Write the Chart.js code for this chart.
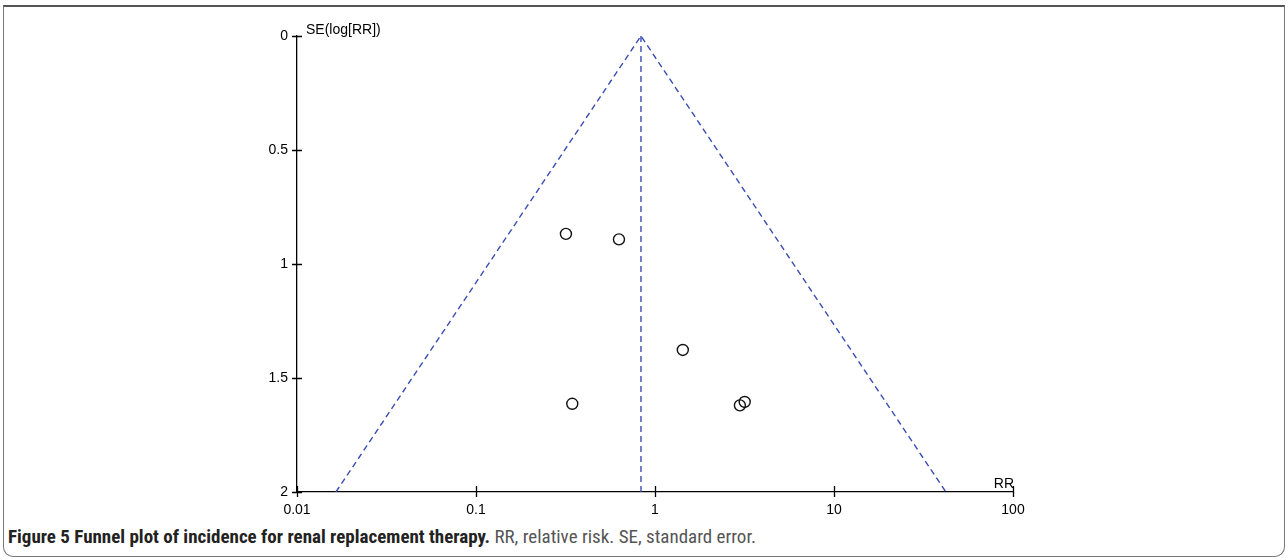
<!DOCTYPE html>
<html>
<head>
<meta charset="utf-8">
<script src="https://cdn.jsdelivr.net/npm/chart.js@4.4.1/dist/chart.umd.min.js"></script>
<style>
    html, body { margin: 0; padding: 0; background: #fff; }
    body { width: 1288px; height: 560px; position: relative; overflow: hidden; }
    .frame {
        position: absolute; left: 3px; top: 5px; width: 1280px; height: 549px;
        border: 1px solid #777; border-top: 2px solid #555;
        border-radius: 0 0 10px 10px;
    }
    .wrap { position: absolute; left: 0; top: 0; width: 1288px; height: 520px; }
    .caption {
        position: absolute; left: 8px; top: 525px;
        font-family: "Liberation Sans Narrow", "Roboto Condensed", "Liberation Sans", sans-serif;
        font-size: 19px; color: #555; white-space: nowrap;
    }
    .caption b { color: #222; }
</style>
</head>
<body>
<div class="frame"></div>
<div class="wrap"><canvas id="funnel"></canvas></div>
<div class="caption"><b>Figure 5 Funnel plot of incidence for renal replacement therapy.</b> RR, relative risk. SE, standard error.</div>
<script>
// study estimates
const studyRR = [0.318, 0.629, 1.43, 0.345, 2.98, 3.17];
const studySE = [0.868, 0.892, 1.377, 1.613, 1.62, 1.605];

// funnel (pooled estimate and 95% limits at SE = 2)
const pooledRR = 0.835;
const funnelLow = 0.0165;
const funnelHigh = 42.2;
const seMax = 2;

const xTicks = [0.01, 0.1, 1, 10, 100];
const xTickLabels = ['0.01', '0.1', '1', '10', '100'];
const yTicks = [0, 0.5, 1, 1.5, 2];
const yTickLabels = ['0', '0.5', '1', '1.5', '2'];

const lineBlue = '#3a4cb4';
const axisFont = { family: '"Liberation Sans", Arial, sans-serif', size: 14 };

// tick marks that cross the axis lines
const crossTicks = {
    id: 'crossTicks',
    afterDraw(chart) {
        const c = chart.ctx, xs = chart.scales.x, ys = chart.scales.y;
        const area = chart.chartArea;
        c.save();
        c.strokeStyle = '#000';
        c.lineWidth = 1.3;
        c.beginPath();
        xTicks.forEach(v => {
            const px = Math.round(xs.getPixelForValue(v)) + 0.5;
            c.moveTo(px, area.bottom - 6);
            c.lineTo(px, area.bottom + 5);
        });
        yTicks.forEach(v => {
            const py = Math.round(ys.getPixelForValue(v)) + 0.5;
            c.moveTo(area.left - 5, py);
            c.lineTo(area.left + 5, py);
        });
        c.stroke();
        c.fillStyle = '#000';
        c.font = '14px "Liberation Sans", Arial, sans-serif';
        c.textBaseline = 'alphabetic';
        c.textAlign = 'left';
        c.fillText('SE(log[RR])', area.left + 9, area.top - 2);
        c.textAlign = 'right';
        c.fillText('RR', area.right + 1, area.bottom - 4);
        c.restore();
    }
};

new Chart(document.getElementById('funnel'), {
    type: 'scatter',
    data: {
        datasets: [
            {
                label: 'funnel',
                data: [{ x: funnelLow, y: seMax }, { x: pooledRR, y: 0 }, { x: funnelHigh, y: seMax }],
                showLine: true,
                borderColor: lineBlue,
                borderWidth: 1.4,
                borderDash: [6, 4],
                pointRadius: 0,
                fill: false
            },
            {
                label: 'pooled',
                data: [{ x: pooledRR, y: 0 }, { x: pooledRR, y: seMax }],
                showLine: true,
                borderColor: lineBlue,
                borderWidth: 1.4,
                borderDash: [6, 4],
                pointRadius: 0,
                fill: false
            },
            {
                label: 'studies',
                data: studyRR.map((v, i) => ({ x: v, y: studySE[i] })),
                showLine: false,
                pointStyle: 'circle',
                pointRadius: 5.5,
                pointBorderWidth: 1.4,
                pointBorderColor: '#111',
                pointBackgroundColor: 'rgba(255,255,255,0)'
            }
        ]
    },
    options: {
        responsive: true,
        maintainAspectRatio: false,
        animation: false,
        layout: { padding: { left: 0, top: 36, right: 275, bottom: 0 } },
        plugins: { legend: { display: false }, tooltip: { enabled: false } },
        scales: {
            x: {
                type: 'logarithmic',
                min: 0.01,
                max: 100,
                grid: { display: false },
                border: { display: true, color: '#000', width: 1.3 },
                afterBuildTicks: s => { s.ticks = xTicks.map(v => ({ value: v })); },
                afterFit: s => { s.height = 28; },
                ticks: {
                    autoSkip: false,
                    maxRotation: 0,
                    color: '#000',
                    font: axisFont,
                    padding: 2,
                    callback: (v) => xTickLabels[xTicks.indexOf(v)] ?? ''
                }
            },
            y: {
                type: 'linear',
                reverse: true,
                min: 0,
                max: seMax,
                grid: { display: false },
                border: { display: true, color: '#000', width: 1.3 },
                afterBuildTicks: s => { s.ticks = yTicks.map(v => ({ value: v })); },
                afterFit: s => { s.width = 297; },
                ticks: {
                    color: '#000',
                    font: axisFont,
                    padding: 1,
                    callback: (v) => yTickLabels[yTicks.indexOf(v)] ?? ''
                }
            }
        }
    },
    plugins: [crossTicks]
});
</script>
</body>
</html>
